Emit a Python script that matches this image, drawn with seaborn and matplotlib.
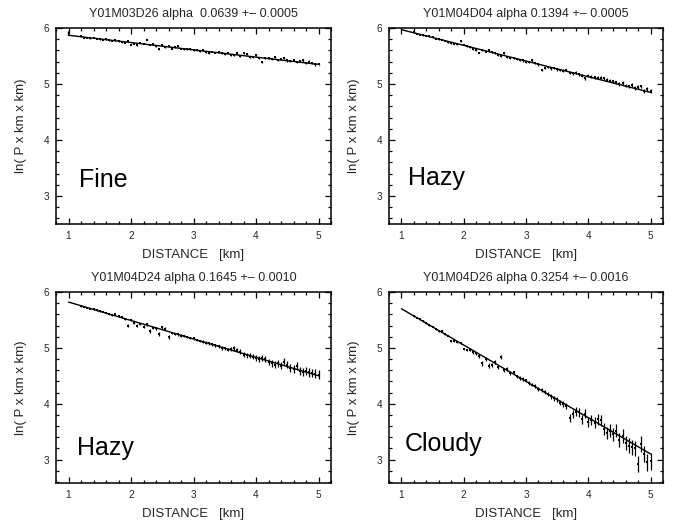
import numpy as np
import pandas as pd
import matplotlib
matplotlib.use("Agg")
import matplotlib.pyplot as plt
import seaborn as sns
from matplotlib.ticker import MultipleLocator

# ---------------- data ----------------
distance = [1.20, 1.25, 1.30, 1.35, 1.40, 1.45, 1.50, 1.55, 1.60, 1.65,
            1.70, 1.75, 1.80, 1.85, 1.90, 1.95, 2.00, 2.05, 2.10, 2.15,
            2.20, 2.25, 2.30, 2.35, 2.40, 2.45, 2.50, 2.55, 2.60, 2.65,
            2.70, 2.75, 2.80, 2.85, 2.90, 2.95, 3.00, 3.05, 3.10, 3.15,
            3.20, 3.25, 3.30, 3.35, 3.40, 3.45, 3.50, 3.55, 3.60, 3.65,
            3.70, 3.75, 3.80, 3.85, 3.90, 3.95, 4.00, 4.05, 4.10, 4.15,
            4.20, 4.25, 4.30, 4.35, 4.40, 4.45, 4.50, 4.55, 4.60, 4.65,
            4.70, 4.75, 4.80, 4.85, 4.90, 4.95, 5.00]

fine_y = [5.85, 5.83, 5.83, 5.82, 5.83, 5.81, 5.80, 5.79, 5.80, 5.78,
          5.77, 5.78, 5.76, 5.75, 5.74, 5.76, 5.70, 5.72, 5.69, 5.74,
          5.72, 5.79, 5.70, 5.71, 5.68, 5.62, 5.70, 5.66, 5.67, 5.63,
          5.66, 5.68, 5.63, 5.62, 5.63, 5.62, 5.61, 5.60, 5.59, 5.60,
          5.57, 5.55, 5.58, 5.56, 5.57, 5.55, 5.54, 5.55, 5.52, 5.51,
          5.56, 5.50, 5.55, 5.54, 5.49, 5.48, 5.51, 5.47, 5.40, 5.46,
          5.47, 5.45, 5.49, 5.43, 5.44, 5.47, 5.42, 5.41, 5.43, 5.39,
          5.41, 5.42, 5.38, 5.40, 5.37, 5.35, 5.36]
fine_err = [0.008, 0.008, 0.008, 0.008, 0.009, 0.009, 0.009, 0.009, 0.009, 0.010,
            0.010, 0.010, 0.010, 0.010, 0.010, 0.011, 0.011, 0.011, 0.011, 0.011,
            0.012, 0.012, 0.012, 0.012, 0.012, 0.012, 0.012, 0.013, 0.013, 0.013,
            0.013, 0.013, 0.013, 0.013, 0.014, 0.014, 0.014, 0.014, 0.014, 0.014,
            0.015, 0.015, 0.015, 0.015, 0.015, 0.015, 0.015, 0.016, 0.016, 0.016,
            0.016, 0.016, 0.016, 0.016, 0.017, 0.017, 0.017, 0.017, 0.017, 0.017,
            0.018, 0.018, 0.018, 0.018, 0.018, 0.018, 0.019, 0.019, 0.019, 0.019,
            0.019, 0.020, 0.020, 0.020, 0.020, 0.020, 0.020]

hazy1_y = [5.92, 5.90, 5.88, 5.87, 5.86, 5.85, 5.84, 5.81, 5.80, 5.79,
           5.77, 5.75, 5.73, 5.72, 5.71, 5.77, 5.70, 5.67, 5.66, 5.62,
           5.61, 5.56, 5.60, 5.58, 5.60, 5.57, 5.55, 5.52, 5.50, 5.56,
           5.48, 5.47, 5.46, 5.44, 5.43, 5.42, 5.40, 5.39, 5.42, 5.37,
           5.35, 5.25, 5.28, 5.30, 5.28, 5.29, 5.26, 5.25, 5.24, 5.25,
           5.20, 5.19, 5.20, 5.17, 5.15, 5.10, 5.15, 5.13, 5.12, 5.11,
           5.11, 5.10, 5.08, 5.06, 5.05, 5.03, 5.00, 5.02, 4.97, 4.96,
           4.98, 4.93, 4.95, 4.96, 4.88, 4.91, 4.88]
hazy1_err = [0.008, 0.008, 0.008, 0.009, 0.009, 0.009, 0.010, 0.010, 0.010, 0.010,
             0.011, 0.011, 0.011, 0.012, 0.012, 0.012, 0.012, 0.013, 0.013, 0.013,
             0.014, 0.014, 0.014, 0.015, 0.015, 0.015, 0.016, 0.016, 0.016, 0.017,
             0.017, 0.017, 0.018, 0.018, 0.018, 0.019, 0.019, 0.019, 0.020, 0.020,
             0.020, 0.021, 0.021, 0.021, 0.022, 0.022, 0.022, 0.023, 0.023, 0.023,
             0.024, 0.024, 0.024, 0.025, 0.025, 0.025, 0.026, 0.026, 0.026, 0.027,
             0.027, 0.027, 0.028, 0.028, 0.028, 0.029, 0.029, 0.029, 0.030, 0.030,
             0.030, 0.031, 0.031, 0.031, 0.032, 0.032, 0.032]

hazy2_y = [5.75, 5.74, 5.72, 5.70, 5.69, 5.67, 5.66, 5.65, 5.63, 5.60,
           5.59, 5.60, 5.57, 5.55, 5.52, 5.40, 5.50, 5.45, 5.40, 5.43,
           5.38, 5.42, 5.30, 5.36, 5.35, 5.25, 5.37, 5.34, 5.20, 5.27,
           5.25, 5.24, 5.22, 5.21, 5.19, 5.18, 5.17, 5.14, 5.12, 5.11,
           5.09, 5.08, 5.06, 5.05, 5.03, 5.00, 4.99, 4.97, 4.98, 4.99,
           4.96, 4.93, 4.88, 4.87, 4.86, 4.84, 4.82, 4.80, 4.82, 4.80,
           4.74, 4.72, 4.70, 4.72, 4.68, 4.75, 4.70, 4.64, 4.62, 4.68,
           4.58, 4.57, 4.58, 4.56, 4.55, 4.54, 4.52]
hazy2_err = [0.010, 0.010, 0.010, 0.011, 0.011, 0.012, 0.012, 0.013, 0.013, 0.014,
             0.014, 0.015, 0.015, 0.016, 0.016, 0.030, 0.018, 0.025, 0.030, 0.020,
             0.030, 0.020, 0.035, 0.022, 0.022, 0.035, 0.030, 0.025, 0.035, 0.022,
             0.020, 0.020, 0.020, 0.021, 0.021, 0.022, 0.022, 0.023, 0.023, 0.024,
             0.024, 0.025, 0.026, 0.027, 0.028, 0.030, 0.032, 0.034, 0.036, 0.040,
             0.040, 0.042, 0.044, 0.045, 0.046, 0.048, 0.050, 0.050, 0.052, 0.054,
             0.055, 0.056, 0.058, 0.060, 0.060, 0.062, 0.064, 0.065, 0.066, 0.068,
             0.070, 0.070, 0.072, 0.074, 0.075, 0.076, 0.078]

cloudy_y = [5.57, 5.54, 5.51, 5.48, 5.44, 5.41, 5.38, 5.33, 5.30, 5.30,
            5.24, 5.22, 5.12, 5.13, 5.10, 5.08, 4.98, 4.96, 4.97, 4.92,
            4.90, 4.85, 4.72, 4.80, 4.68, 4.70, 4.75, 4.65, 4.84, 4.60,
            4.62, 4.55, 4.56, 4.49, 4.46, 4.44, 4.42, 4.37, 4.34, 4.31,
            4.27, 4.24, 4.21, 4.17, 4.13, 4.10, 4.08, 4.02, 4.00, 3.96,
            3.75, 3.82, 3.86, 3.85, 3.72, 3.82, 3.68, 3.70, 3.66, 3.72,
            3.70, 3.55, 3.48, 3.52, 3.45, 3.52, 3.35, 3.42, 3.30, 3.25,
            3.22, 3.20, 2.92, 3.28, 3.10, 2.95, 2.97]
cloudy_err = [0.010, 0.010, 0.011, 0.011, 0.012, 0.012, 0.013, 0.013, 0.014, 0.015,
              0.015, 0.016, 0.020, 0.018, 0.018, 0.019, 0.025, 0.022, 0.022, 0.023,
              0.025, 0.028, 0.040, 0.030, 0.040, 0.035, 0.032, 0.033, 0.035, 0.030,
              0.030, 0.030, 0.028, 0.028, 0.028, 0.030, 0.030, 0.032, 0.032, 0.034,
              0.035, 0.036, 0.038, 0.040, 0.042, 0.045, 0.048, 0.050, 0.055, 0.060,
              0.070, 0.070, 0.075, 0.080, 0.085, 0.085, 0.090, 0.090, 0.095, 0.100,
              0.100, 0.105, 0.110, 0.110, 0.115, 0.120, 0.120, 0.125, 0.130, 0.130,
              0.135, 0.140, 0.140, 0.145, 0.150, 0.150, 0.155]

# fitted lines (vertices)
fine_fit_x = [1.0, 1.0, 5.0]
fine_fit_y = [5.93, 5.87, 5.35]
hazy1_fit_x = [1.0, 5.0]
hazy1_fit_y = [5.97, 4.85]
hazy2_fit_x = [1.0, 5.0]
hazy2_fit_y = [5.82, 4.50]
cloudy_fit_x = [1.0, 5.0]
cloudy_fit_y = [5.70, 3.10]

titles = ["Y01M03D26 alpha  0.0639 +\u2013 0.0005",
          "Y01M04D04 alpha 0.1394 +\u2013 0.0005",
          "Y01M04D24 alpha 0.1645 +\u2013 0.0010",
          "Y01M04D26 alpha 0.3254 +\u2013 0.0016"]
conditions = ["Fine", "Hazy", "Hazy", "Cloudy"]
x_ticks = [1, 2, 3, 4, 5]
y_ticks = [3, 4, 5, 6]

# ---------------- style ----------------
sns.set_theme(style="ticks")
plt.rcParams['font.family'] = ['Liberation Sans', 'DejaVu Sans']
plt.rcParams['axes.edgecolor'] = 'black'
plt.rcParams['axes.linewidth'] = 1.1

fig = plt.figure(figsize=(6.84, 5.26), dpi=100)
W, H = 684.0, 526.0
boxes = [(56, 28, 331, 224), (389, 28, 663, 224),
         (56, 292, 331, 483), (389, 292, 663, 483)]
ylims = [(2.5, 6.0), (2.5, 6.0), (2.58, 6.0), (2.58, 6.0)]
label_pos = [(1.17, 3.16), (1.10, 3.20), (1.14, 3.08), (1.06, 3.15)]

series = [(fine_y, fine_err, fine_fit_x, fine_fit_y),
          (hazy1_y, hazy1_err, hazy1_fit_x, hazy1_fit_y),
          (hazy2_y, hazy2_err, hazy2_fit_x, hazy2_fit_y),
          (cloudy_y, cloudy_err, cloudy_fit_x, cloudy_fit_y)]

for k, (l, t, r, b) in enumerate(boxes):
    ax = fig.add_axes([l / W, 1 - b / H, (r - l) / W, (b - t) / H])
    yv, ev, fx, fy = series[k]
    df = pd.DataFrame({"distance": distance, "lnP": yv, "err": ev})
    fit = pd.DataFrame({"distance": fx, "lnP": fy})

    ax.errorbar(df["distance"], df["lnP"], yerr=df["err"], fmt="none",
                ecolor="black", elinewidth=0.9, capsize=0, zorder=2)
    sns.scatterplot(data=df, x="distance", y="lnP", ax=ax, marker="s",
                    s=4, color="black", linewidth=0, zorder=3)
    sns.lineplot(data=fit, x="distance", y="lnP", ax=ax, color="black",
                 linewidth=1.0, sort=False, estimator=None, zorder=4)

    ax.set_xlim(0.8, 5.2)
    ax.set_ylim(*ylims[k])
    ax.set_xticks(x_ticks)
    ax.set_yticks(y_ticks)
    ax.xaxis.set_minor_locator(MultipleLocator(0.2))
    ax.yaxis.set_minor_locator(MultipleLocator(0.2))
    ax.tick_params(which="both", direction="in", top=True, right=True,
                   color="black", width=0.9)
    ax.tick_params(which="major", length=4.5, labelsize=7.2, pad=5)
    ax.tick_params(which="minor", length=2.5)
    for s in ax.spines.values():
        s.set_visible(True)
        s.set_linewidth(1.1)

    ax.set_title(titles[k], fontsize=9, pad=8)
    ax.set_xlabel("DISTANCE   [km]", fontsize=9.5, labelpad=6)
    ax.set_ylabel("ln( P x km x km)", fontsize=9.5, labelpad=12)
    ax.text(label_pos[k][0], label_pos[k][1], conditions[k], fontsize=18,
            va="baseline", ha="left", color="black")

fig.savefig("out.png", dpi=100, facecolor="white")
